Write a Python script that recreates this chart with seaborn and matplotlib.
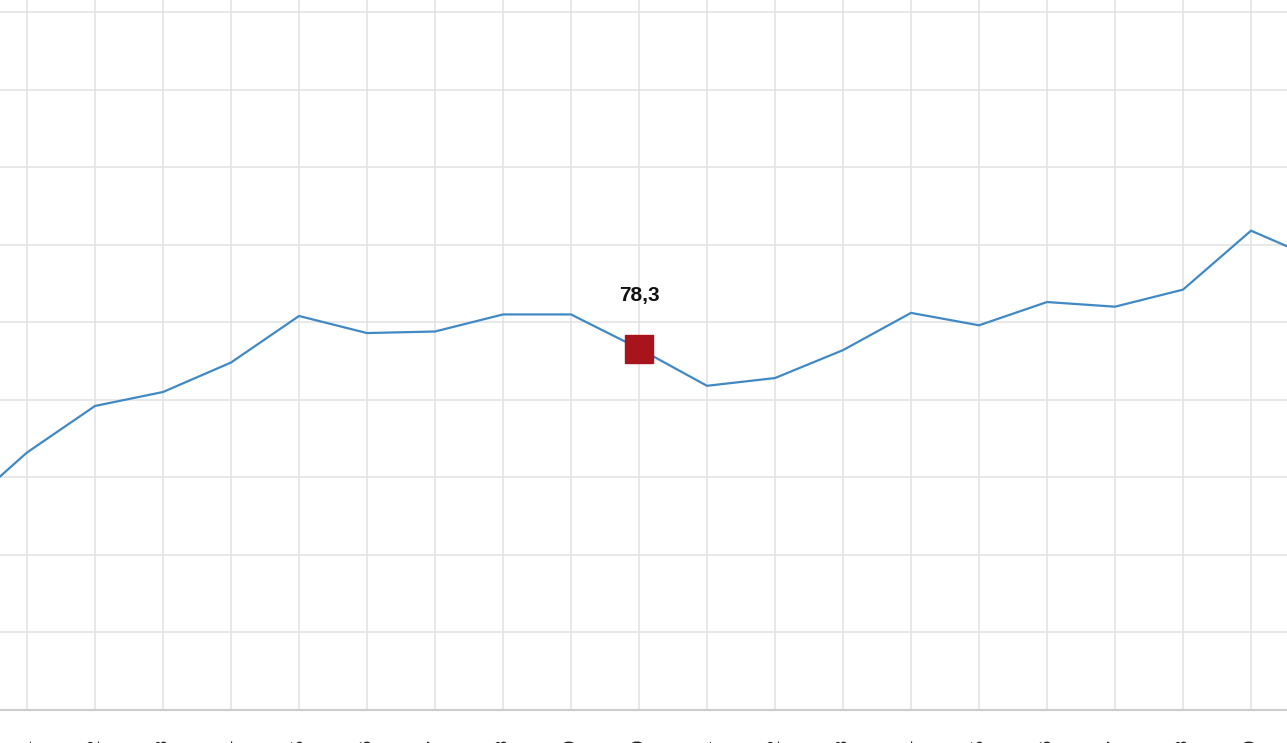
import matplotlib
matplotlib.use("Agg")
import matplotlib.pyplot as plt
import seaborn as sns
import pandas as pd

# ---- data ----
periods = ["2000", "2001", "2002", "2003", "2004", "2005", "2006", "2007",
           "2008", "2009", "2010", "2011", "2012", "2013", "2014", "2015",
           "2016", "2017", "2018", "2019", "2020"]
values = [67.7, 71.6, 74.6, 75.5, 77.4, 80.4, 79.3, 79.4, 80.5, 80.5,
          78.3, 75.9, 76.4, 78.2, 80.6, 79.8, 81.3, 81.0, 82.1, 85.9, 84.0]
highlight_label = "78,3"
highlight_index = 10
y_ticks = [55, 60, 65, 70, 75, 80, 85, 90, 95, 100]

df = pd.DataFrame({"pos": list(range(-1, len(periods) - 1)),
                   "period": periods, "value": values})

sns.set_theme(style="white")
plt.rcParams["font.family"] = ["Liberation Sans", "DejaVu Sans"]

W, H = 1287, 743
fig = plt.figure(figsize=(W / 100, H / 100), dpi=100)
ax = fig.add_axes([0, 33 / H, 1, 710 / H])

sns.lineplot(data=df, x="pos", y="value", ax=ax, color="#4189c4",
             linewidth=1.6, zorder=3)

hx = df["pos"][highlight_index]
hy = df["value"][highlight_index]
ax.plot([hx], [hy], marker="s", markersize=19.5, color="#a8141b",
        linestyle="none", zorder=4)
ax.annotate(highlight_label, (hx, hy), xytext=(0, 38), textcoords="offset points",
            ha="center", va="center", fontsize=15, fontweight="bold",
            color="#111111", zorder=5)

ax.set_yticks(y_ticks)
ax.set_xticks(df["pos"])
ax.set_xticklabels(df["period"], rotation=90, ha="center")

px_per_unit = 77.56 / 5
ax.set_xlim(-27 / 68, 1260 / 68)
ax.set_ylim(55, 55 + 710 / px_per_unit)

ax.tick_params(axis="y", left=False, labelleft=False)
ax.tick_params(axis="x", length=12.2, width=1.1, color="#e0e0e0", pad=8.8,
               labelsize=12, labelcolor="#222222")
ax.grid(True, color="#e2e2e2", linewidth=1.1, zorder=0)
ax.set_axisbelow(True)
for s in ["top", "left", "right"]:
    ax.spines[s].set_visible(False)
ax.spines["bottom"].set_color("#cccccc")
ax.spines["bottom"].set_linewidth(1.5)
ax.set_xlabel("")
ax.set_ylabel("")

fig.savefig("out.png", dpi=100)
